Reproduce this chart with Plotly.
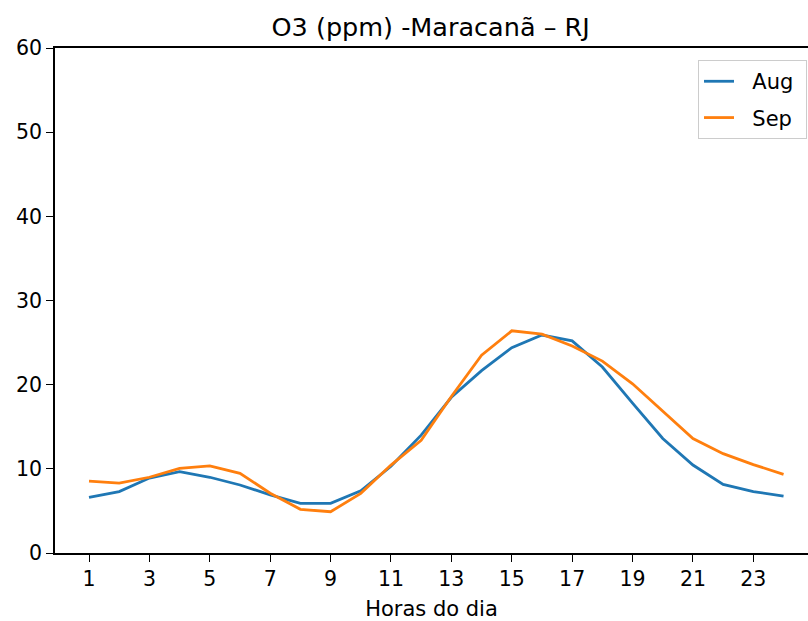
import plotly.graph_objects as go

hours = list(range(1, 25))
aug = [6.6, 7.3, 8.9, 9.66, 9.0, 8.08, 6.9, 5.9, 5.9, 7.4, 10.3, 14.0,
       18.5, 21.66, 24.4, 25.9, 25.2, 22.1, 17.8, 13.6, 10.45, 8.15, 7.3, 6.77]
sep = [8.55, 8.3, 9.0, 10.06, 10.34, 9.47, 7.1, 5.19, 4.9, 7.09, 10.45, 13.4,
       18.6, 23.5, 26.4, 26.0, 24.6, 22.8, 20.1, 16.8, 13.6, 11.8, 10.5, 9.35]
xticks = list(range(1, 24, 2))
yticks = [0, 10, 20, 30, 40, 50, 60]
names = ["Aug", "Sep"]

NB = "\u00a0"

fig = go.Figure()
fig.add_trace(go.Scatter(x=hours, y=aug, mode="lines", name=NB * 2 + names[0] + NB,
                         legendgroup="a", line=dict(color="#1f77b4", width=2.8)))
fig.add_trace(go.Scatter(x=hours, y=sep, mode="lines", name=NB * 2 + names[1] + NB,
                         legendgroup="b", line=dict(color="#ff7f0e", width=2.8)))

fig.update_layout(
    width=808, height=621,
    margin=dict(l=55, r=0, t=48, b=68),
    paper_bgcolor="white", plot_bgcolor="white",
    font=dict(family="DejaVu Sans", size=20, color="black"),
    title=dict(text="O3 (ppm) -Maracanã – RJ", x=0.533, xanchor="center",
               y=0.957, yanchor="middle", font=dict(size=25.5, color="black")),
    showlegend=True,
    legend=dict(x=0.9987, xanchor="right", y=0.976, yanchor="top",
                bgcolor="white", bordercolor="#cccccc", borderwidth=1,
                font=dict(size=21), tracegroupgap=6),
)
fig.update_xaxes(range=[-0.126, 24.81], tickvals=xticks, ticktext=[str(t) for t in xticks],
                 showgrid=False, zeroline=False, showline=True, linecolor="black",
                 linewidth=1.6, mirror=True, ticks="outside", ticklen=7, tickwidth=1.4,
                 tickcolor="black", tickfont=dict(size=20.5),
                 title=dict(text="Horas do dia", font=dict(size=21), standoff=11))
fig.update_yaxes(range=[0, 60], tickvals=yticks, ticktext=[str(t) for t in yticks],
                 showgrid=False, zeroline=False, showline=True, linecolor="black",
                 linewidth=1.6, mirror=False, ticks="outside", ticklen=7, tickwidth=1.4,
                 tickcolor="black", tickfont=dict(size=20.5))

fig.write_html("out.html", config={"displayModeBar": False},
               post_script="document.body.style.margin='0';document.body.style.overflow='hidden';")
